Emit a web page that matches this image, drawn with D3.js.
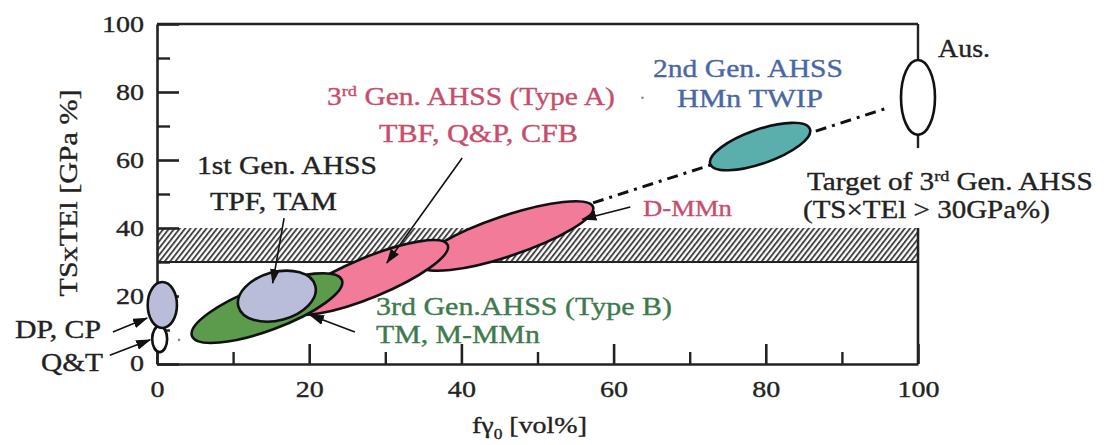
<!DOCTYPE html>
<html><head><meta charset="utf-8">
<script src="https://cdn.jsdelivr.net/npm/d3@7/dist/d3.min.js"></script>
<style>
html,body{margin:0;padding:0;background:#fff;}
svg{display:block;}
svg text{font-family:"Liberation Serif","Times New Roman",serif;}
</style></head><body>
<svg id="c" width="1105" height="445"></svg>
<script>
// ---------- data ----------
const xTicks = [0, 20, 40, 60, 80, 100];
const xMinorTicks = [10, 30, 50, 70, 90];
const yTicks = [0, 20, 40, 60, 80, 100];
const yMinorTicks = [10, 30, 50, 70, 90];
const targetBand = [30, 40];            // TS×TEl target band [GPa%]
// steel regions: major-axis end points (fγ0 [vol%], TS×TEl [GPa%]) and half thickness [GPa%]
const regionNames = ["D-MMn", "TypeA", "TypeB", "Gen1", "Gen2", "QT", "DPCP", "Aus"];
const regionX1 = [34.6, 17.5, 4.6, 10.7, 72.7, 0.35, 0.7, 100];
const regionY1 = [29.1, 15.9, 8.2, 16.9, 58.8, 3.5, 10.6, 67.4];
const regionX2 = [57.3, 38.2, 24.3, 20.8, 85.8, 0.35, 0.7, 100];
const regionY2 = [46.2, 35.0, 24.7, 23.0, 69.1, 11.2, 24.1, 89.4];
const regionHalf = [5.9, 5.9, 6.5, 7.1, 5.0, 2.2, 4.3, 5.0];
// trend (dash-dot) line
const trendX = [57.3, 96.0];
const trendY = [47.4, 75.3];

// ---------- styles ----------
const fills = {"D-MMn":"#f27b9a","TypeA":"#f27b9a","TypeB":"#5c9a4c","Gen1":"#b9bdd9",
  "Gen2":"#5aafad","QT":"#ffffff","DPCP":"#b9bdd9","Aus":"#ffffff"};
const drawOrder = ["D-MMn","TypeA","TypeB","Gen1","Gen2","QT","DPCP","Aus"];
const PINK = "#c64d6c", BLUE = "#4a67a4", GREEN = "#3d7a4c", DARK = "#222";
const FONT = "Liberation Serif";

const svg = d3.select("#c");
const x = d3.scaleLinear().domain([0, 100]).range([157, 918]);
const y = d3.scaleLinear().domain([0, 100]).range([364, 24]);

// hatch pattern
const defs = svg.append("defs");
const pat = defs.append("pattern").attr("id","hatch").attr("patternUnits","userSpaceOnUse")
  .attr("width",4.2).attr("height",10).attr("patternTransform","rotate(38)");
pat.append("rect").attr("width",4.2).attr("height",10).attr("fill","#fff");
pat.append("line").attr("x1",1).attr("x2",1).attr("y1",0).attr("y2",10)
  .attr("stroke","#383838").attr("stroke-width",1.8);
defs.append("marker").attr("id","arr").attr("markerUnits","userSpaceOnUse")
  .attr("markerWidth",16).attr("markerHeight",12).attr("refX",14).attr("refY",5)
  .attr("orient","auto").append("path").attr("d","M0,0 L15,5 L0,10 Z").attr("fill","#111");

// target band
svg.append("rect").attr("x", x(0)).attr("y", y(targetBand[1]))
  .attr("width", x(100) - x(0)).attr("height", y(targetBand[0]) - y(targetBand[1]))
  .attr("fill","url(#hatch)");
svg.append("line").attr("x1",x(0)).attr("x2",x(100)).attr("y1",y(targetBand[0])).attr("y2",y(targetBand[0]))
  .attr("stroke",DARK).attr("stroke-width",2);

// axes
function styleAxis(g, w){
  g.attr("font-family", FONT);
  g.select(".domain").attr("stroke",DARK).attr("stroke-width",2.6);
  g.selectAll(".tick line").attr("stroke",DARK).attr("stroke-width",w);
}
const yAx = svg.append("g").attr("transform",`translate(${x(0)},0)`)
  .call(d3.axisLeft(y).tickValues(yTicks).tickSizeInner(-22).tickSizeOuter(0).tickPadding(13));
styleAxis(yAx, 2.6);
svg.append("g").attr("transform",`translate(${x(0)},0)`)
  .call(d3.axisLeft(y).tickValues(yMinorTicks).tickSizeInner(-13).tickSizeOuter(0).tickFormat(""))
  .call(g=>{g.select(".domain").remove(); g.selectAll(".tick line").attr("stroke",DARK).attr("stroke-width",2.4);});
const xAx = svg.append("g").attr("transform",`translate(0,${y(0)})`)
  .call(d3.axisBottom(x).tickValues(xTicks).tickSizeInner(-20).tickSizeOuter(0));
styleAxis(xAx, 2.6);
svg.append("g").attr("transform",`translate(0,${y(0)})`)
  .call(d3.axisBottom(x).tickValues(xMinorTicks).tickSizeInner(-12).tickSizeOuter(0).tickFormat(""))
  .call(g=>{g.select(".domain").remove(); g.selectAll(".tick line").attr("stroke",DARK).attr("stroke-width",2.4);});

const TICK_SX = 1.17;
function tickText(sel){
  sel.attr("font-size",24).attr("font-family",FONT).attr("fill",DARK)
    .attr("stroke",DARK).attr("stroke-width",0.35);
}
yAx.selectAll(".tick text").call(tickText)
  .attr("text-anchor","end").attr("x",-13/TICK_SX).attr("transform",`scale(${TICK_SX},1)`);
xAx.selectAll(".tick text").call(tickText)
  .attr("y",33).attr("dy",0).attr("x",0).attr("transform",`scale(${TICK_SX},1)`);
yAx.selectAll(".tick").filter(d=>d===0).select("text").attr("dy","0.25em");

// frame: top and right
svg.append("line").attr("x1",x(0)).attr("x2",x(100)).attr("y1",y(100)).attr("y2",y(100))
  .attr("stroke",DARK).attr("stroke-width",2.6);
svg.append("line").attr("x1",x(100)).attr("x2",x(100)).attr("y1",y(100)).attr("y2",y(63.5))
  .attr("stroke",DARK).attr("stroke-width",2.4);
svg.append("line").attr("x1",x(100)).attr("x2",x(100)).attr("y1",y(40)).attr("y2",y(0))
  .attr("stroke",DARK).attr("stroke-width",2.6);

// trend line (dash-dot)
svg.append("path").attr("d", d3.line().x(d=>x(d[0])).y(d=>y(d[1]))(trendX.map((v,i)=>[v,trendY[i]])))
  .attr("fill","none").attr("stroke","#111").attr("stroke-width",3)
  .attr("stroke-dasharray","11,6,3,6");

// regions
const pxPerY = y(0) - y(1);
drawOrder.forEach(name=>{
  const i = regionNames.indexOf(name);
  const p1 = [x(regionX1[i]), y(regionY1[i])], p2 = [x(regionX2[i]), y(regionY2[i])];
  const cx = (p1[0]+p2[0])/2, cy = (p1[1]+p2[1])/2;
  const a = Math.hypot(p2[0]-p1[0], p2[1]-p1[1])/2;
  const ang = Math.atan2(p2[1]-p1[1], p2[0]-p1[0])*180/Math.PI;
  svg.append("ellipse").attr("transform",`translate(${cx},${cy}) rotate(${ang})`)
    .attr("rx",a).attr("ry",regionHalf[i]*pxPerY)
    .attr("fill",fills[name]).attr("stroke","#111").attr("stroke-width",2.6);
});

// stray dots
[[2.9,7.1],[63.8,78.3]].forEach(d=>svg.append("circle").attr("cx",x(d[0])).attr("cy",y(d[1])).attr("r",1.3).attr("fill","#888"));

// arrows (data coordinates)
const arrows = [
  [[-5.8,9.4],[-1.3,13.5]],
  [[-6.2,2.6],[-0.9,7.1]],
  [[16.7,42.9],[15.2,23.8]],
  [[40.1,60.6],[30.2,29.7]],
  [[26.0,9.4],[20.1,14.4]],
  [[62.2,46.2],[55.9,42.6]]
];
arrows.forEach(a=>svg.append("line").attr("x1",x(a[0][0])).attr("y1",y(a[0][1]))
  .attr("x2",x(a[1][0])).attr("y2",y(a[1][1])).attr("stroke","#111").attr("stroke-width",1.6)
  .attr("marker-end","url(#arr)"));

// text labels
function label(px, py, width, fs, color, parts, rot){
  const g = svg.append("g").attr("transform",`translate(${px},${py})${rot?` rotate(${rot})`:""}`);
  const t = g.append("text").attr("font-size",fs).attr("font-family",FONT).attr("fill",color)
    .attr("stroke",color).attr("stroke-width",0.35);
  let shift = 0;
  parts.forEach(p=>{
    const s = t.append("tspan").text(p.t);
    const want = p.sup ? -fs*0.38 : (p.sub ? fs*0.25 : 0);
    if (want !== shift) { s.attr("dy", want - shift); shift = want; }
    if (p.sup || p.sub) s.attr("font-size", fs*0.62);
  });
  const w = t.node().getComputedTextLength();
  if (rot) t.attr("text-anchor","middle");
  t.attr("transform",`scale(${width/w},1)`);
}
label(327,105,288,25,PINK,[{t:"3"},{t:"rd",sup:true},{t:" Gen. AHSS (Type A)"}]);
label(379,142,199,25,PINK,[{t:"TBF, Q&P, CFB"}]);
label(197,174,180,25,DARK,[{t:"1st Gen. AHSS"}]);
label(210,210,127,25,DARK,[{t:"TPF, TAM"}]);
label(653,77,190,25,BLUE,[{t:"2nd Gen. AHSS"}]);
label(677,107,146,25,BLUE,[{t:"HMn TWIP"}]);
label(807,190,286,25,DARK,[{t:"Target of 3"},{t:"rd",sup:true},{t:" Gen. AHSS"}]);
label(803,218,247,25,DARK,[{t:"(TS×TEl > 30GPa%)"}]);
label(376,315,296,25,GREEN,[{t:"3rd Gen.AHSS (Type B)"}]);
label(376,343,164,25,GREEN,[{t:"TM, M-MMn"}]);
label(15,338,86,25,DARK,[{t:"DP, CP"}]);
label(41,371,62,25,DARK,[{t:"Q&T"}]);
label(643,216,89,24,PINK,[{t:"D-MMn"}]);
label(938,57,52,25,DARK,[{t:"Aus."}]);
label(472,433,115,24,DARK,[{t:"fγ"},{t:"0",sub:true},{t:" [vol%]"}]);
label(77,193,207,25,DARK,[{t:"TSxTEl [GPa %]"}],-90);
</script>
</body></html>
